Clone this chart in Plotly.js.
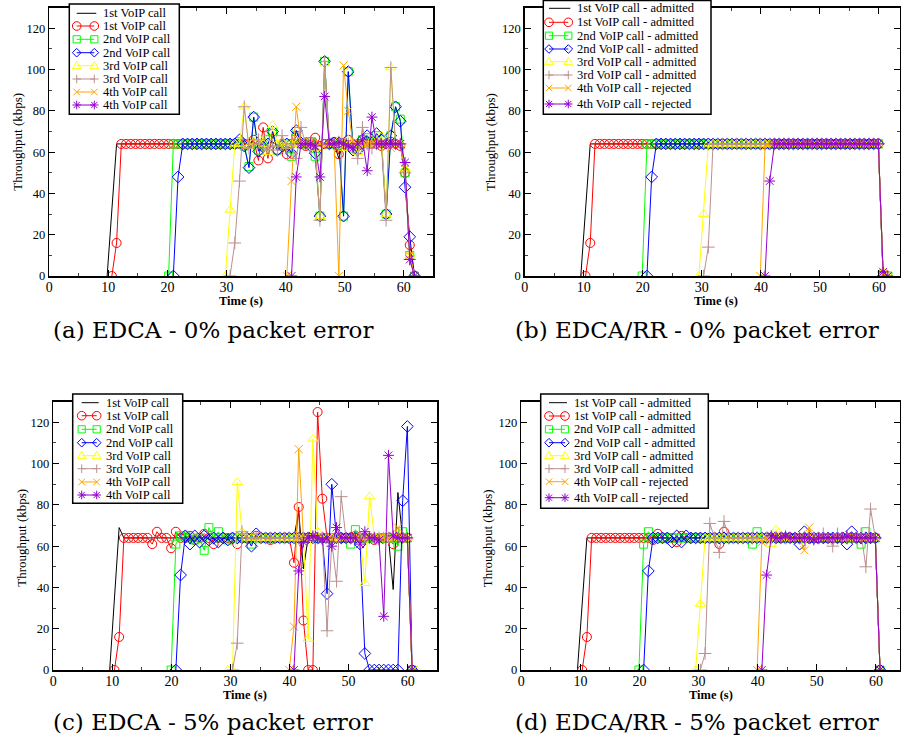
<!DOCTYPE html>
<html><head><meta charset="utf-8">
<script src="https://cdn.plot.ly/plotly-3.0.1.min.js"></script>
<style>html,body{margin:0;padding:0;background:#fff;}#chart{width:901px;height:742px;}</style>
</head><body><div id="chart"></div>
<script>
// ---------- sampling ----------
const DT = 0.8;                       // sampling interval of the throughput trace (s)
const gridOffset = {a: 0.2, b: -0.1, c: -0.05, d: -0.1}; // time of sample k is offset + DT*k

// ---------- labels ----------
const namesEDCA = ['1st VoIP call','1st VoIP call','2nd VoIP call','2nd VoIP call','3rd VoIP call','3rd VoIP call','4th VoIP call','4th VoIP call'];
const namesRR = ['1st VoIP call - admitted','1st VoIP call - admitted','2nd VoIP call - admitted','2nd VoIP call - admitted','3rd VoIP call - admitted','3rd VoIP call - admitted','4th VoIP call - rejected','4th VoIP call - rejected'];
const captions = ['(a) EDCA - 0% packet error','(b) EDCA/RR - 0% packet error','(c) EDCA - 5% packet error','(d) EDCA/RR - 5% packet error'];
const xTitle = 'Time (s)';
const yTitle = 'Throughput (kbps)';

// first sample index of each series (black, red, green, blue, yellow, brown, orange, violet)
const startA = [12,13,25,26,37,38,50,51];
const startB = [12,13,25,26,37,38,50,51];
const startC = [12,13,25,26,37,38,50,51];
const startD = [12,13,25,26,37,38,50,51];

// ---------- (a) EDCA 0% ----------
const aBlack = [0,30,
64,64,64,64,64,64,64,64,64,64, 64,64,64,64,64,64,64,64,64,64, 64,64,64,64,64,64,64,
64,64,65,63,64,64,65,63,64,64, 64,65,64,63,64,64,64,64,64,64,
57,66, 64,64,64,64,64,64,64,64,64,64,64,64, 50,12,0];
const aRed = [0,16,
64,64,64,64,64,64,64,64,64,64, 64,64,64,64,64,64,64,64,64,64, 64,64,64,64,64,64,64,64,
66,56,72,57,69,61,64,59,64,68, 64,63,65,67,63,64,64,65,59,64,
66,64,63,64,65,64,64,63,64,65, 64,63,50,15,0];
const aGreen = [0, 64,64,64,64,64,64,64,64,64,64,64,64,64,
64,65,63,53,77,61,63,66,70,61, 63,64,58,70,64,64,65,58,29,104,
64,64,64,29,99,62,61,66,67,65, 68,66,30,68,82,76,50,10,0];
const aBlue = [0,48, 64,64,64,64,64,64,64,64,64,64,64,
64,66,63,52.5,77,60.5,62.5,64,70,61, 63,64,59.5,70.5,64.5,64.5,63,59.5,29,104,
64,64.5,64.5,29,99,61,61,66,68,65, 69,66,30,68,82,75,43,19,0];
const aYellow = [0,32,
64,64,82,63,65,67,64,60,73,64, 65,63,64,66,64,65,64,62,29,103,
64,64,66,62,66,64,60,65,64,66, 64,68,30,101,64,64,52,10,0];
const aBrown = [0,
16,46,82,62,64,66,62,61,63,61, 68,62,64,57,72,64,62,64,27,104,
64,64,64,64,64,64,57,72,64,62, 64,64,27,101,64,64,50,8,0];
const aOrange = [0,46,82,64,64,65,63,64,64,64, 64,0,102,80,64,64,64,64,64,64, 64,64,62,64,64,52,10,0];
const aViolet = [0,48,64,64,64,63,48,87,64,64, 65,64,63,62,64,66,51,77,64,64, 64,64,64,64,55,8,0];

// ---------- (b) EDCA/RR 0% ----------
const bBlack = [0,32,
64,64,64,64,64,64,64,64,64,64, 64,64,64,64,64,64,64,64,64,64, 64,64,64,64,64,64,64,64,64,64,
64,64,64,64,64,64,64,64,64,64, 64,64,64,64,64,64,64,64,64,64, 64,64,64,64,64,64,64,64,64,64, 64,64, 0];
const bRed = [0,16,
64,64,64,64,64,64,64,64,64,64, 64,64,64,64,64,64,64,64,64,64, 64,64,64,64,64,64,64,64,64,64,
64,64,64,64,64,64,64,64,64,64, 64,64,64,64,64,64,64,64,64,64, 64,64,64,64,64,64,64,64,64,64, 64, 0];
const bGreen = [0,
64,64,64,64,64,64,64,64,64,64, 64,64,64,64,64,64,64,64,64,64, 64,64,64,64,64,64,64,64,64,64,
64,64,64,64,64,64,64,64,64,64, 64,64,64,64,64,64,64,64,64,64, 1,0];
const bBlue = [0,48,
64,64,64,64,64,64,64,64,64,64, 64,64,64,64,64,64,64,64,64,64, 64,64,64,64,64,64,64,64,64,64,
64,64,64,64,64,64,64,64,64,64, 64,64,64,64,64,64,64,64, 0];
const bYellow = [0,30,
64,64,64,64,64,64,64,64,64,64, 64,64,64,64,64,64,64,64,64,64, 64,64,64,64,64,64,64,64,64,64,
64,64,64,64,64,64,64, 2,0];
const bBrown = [0,14,
64,64,64,64,64,64,64,64,64,64, 64,64,64,64,64,64,64,64,64,64, 64,64,64,64,64,64,64,64,64,64,
64,64,64,64,64,64, 0];
const bOrange = [0,63, 64,64,64,64,64,64,64,64,64,64, 64,64,64,64,64,64,64,64,64,64, 64,64,64,64, 1,0];
const bViolet = [0,46, 64,64,64,64,64,64,64,64,64,64, 64,64,64,64,64,64,64,64,64,64, 64,64,64, 2,0];

// ---------- (c) EDCA 5% ----------
const cBlack = [0,35,69,
64,64,64,64,64,64,64,64,64,64, 64,64,64,64,64,64,64,64,64,64, 64,64,64,64,64,64,64,64,64,64, 64,64,64,64,64,64,64,
77,49, 64,64,64,64,64,64,64,64,64,64, 64,64,64,64,64,64,64,64, 39,86,64,64, 0];
const cRed = [0,16, 64,64,64,64,64,64,
61,67,64,64,59,67,64,64,65,63, 64,66,64,61,64,64,64,64,61,64,
64,64,65,64,64,63,64,64,64,64, 52,79,24,0,0,125,83,64,64,64,
64,64,64,65,64,64,64,63,64,64, 64,61,64,64,64,0];
const cGreen = [0,
61,65,65,64,63,64,58,69,64,67, 64,63,64,64,64,64,61,64,64,64,
64,64,64,64,64,64,64,64,64,64, 64,64,64,64,64,64,64,61,68,64,
64,64,64,64,64,64,64,60,67,64, 0];
const cBlue = [0,46,
65,61,65,62,65,63,64,62,64,63, 64,64,64,64,60,66,64,64,64,64,
64,64,64,64,64,64,64,64,64,64, 37,90,64,64,64,64,64,61,8,0,
0,0,0,0,0,0,82,118, 0];
const cYellow = [0,0,
91,67,64,64,64,64,64,64,64,64, 64,64,64,64,64,15,112,67,64,64,
64,64,64,64,64,64,64,42,84,65, 64,64,64,64,64,64,64,0,0];
const cBrown = [0,
13,67,64,64,64,64,64,64,64,64, 64,64,64,64,64,64,64,64,64,19,
62,43,84,64,64,64,64,64,64,64, 64,64,64,64,64,64,64,0];
const cOrange = [0,21,107,64,64,64,64,64,64,64, 64,64,64,64,64,64,64,64,64,64, 64,64,64,69,64,64,0];
const cViolet = [0,48,62,64,65,64,63,64,60,69, 64,64,64,64,61,67,64,64,63,26, 104,65,64,64,64,0];

// ---------- (d) EDCA/RR 5% ----------
const dBlack = [0,32,
64,64,64,64,64,64,64,64,64,64, 64,64,64,64,64,64,64,64,64,64, 64,64,64,64,64,64,64,64,64,64,
64,64,64,64,64,64,64,64,64,64, 64,64,64,64,64,64,64,64,64,64, 64,64,64,64,64,64,64,64,64,64, 64,64, 0];
const dRed = [0,16, 64,64,64,64,64,64,64,64,64,64,64,64,64,
63,66,64,64,64,62,65,64,64,64, 64,64,64,64,61,67,64,64,64,64,
64,64,64,64,64,64,64,64,64,64, 64,64,64,64,64,64,64,64,64,64, 64,64,64,64,64,64,64,64, 0];
const dGreen = [0,61,67,
64,64,64,64,64,64,64,64,64,64, 64,64,64,64,64,64,64,64,64,64, 64,
61,67, 64,64,64,64,64,64,64,64,64,64, 64,64,64,64,64,64,64,64,64,64, 64,
61,67,64,64, 0];
const dBlue = [0,48, 64,64,64,64, 62,65,62,65,
64,64,64,64,64,64,64,64,64,64, 64,64,64,64,64,64,64,64,64,64, 64,64,64,
61,67, 64,64,64,64,64,64,64,64, 61,67, 64,64,64,64,64, 0];
const dYellow = [0,32, 64,64,64,64,64,64,64,64,64,64,64,64,64,64, 61,68,
64,64,64,64,64,64,64,64,64,64, 64,64,64,64,64,64,64,64,64,64,64, 0];
const dBrown = [0,8,71,64,57,72,
64,64,64,64,64,64,64,64,64,64, 64,64,64,64,64,64,64,64,64,64,
66,64,60,66, 64,64,64,64, 66,50,78,64, 0];
const dOrange = [0,62, 64,64,64,64,64,64,64,64, 58,69, 64,64,64,64,64,64,64,64,64,64,64,64,64,64, 0];
const dViolet = [0,46, 65,64,64,65,64,64,64,64,64,63,64,64,64,64,64,64,65,64,64,64,64,64,64, 0];

// ---------- styles ----------
const COLORS = ['#000000','#ff0000','#00ff00','#0000ff','#ffff00','#bc8f8f','#ffa500','#9400d3'];
const SYMBOLS = [null,'circle-open','square-open','diamond-open','triangle-up-open','cross-thin-open','x-thin-open','asterisk-open'];
const MSIZE = [0,9,8,9,9,9,8,9];
const W = 901, H = 742;
const serif = 'Liberation Serif';

const panels = [
  {off: gridOffset.a, start: startA, data: [aBlack,aRed,aGreen,aBlue,aYellow,aBrown,aOrange,aViolet], xa:'x',  ya:'y'},
  {off: gridOffset.b, start: startB, data: [bBlack,bRed,bGreen,bBlue,bYellow,bBrown,bOrange,bViolet], xa:'x2', ya:'y2'},
  {off: gridOffset.c, start: startC, data: [cBlack,cRed,cGreen,cBlue,cYellow,cBrown,cOrange,cViolet], xa:'x3', ya:'y3'},
  {off: gridOffset.d, start: startD, data: [dBlack,dRed,dGreen,dBlue,dYellow,dBrown,dOrange,dViolet], xa:'x4', ya:'y4'}
];
const panelNames = [namesEDCA, namesRR, namesEDCA, namesRR];

const traces = [];
panels.forEach((p, pi) => {
  p.data.forEach((vals, si) => {
    const t = vals.map((v, i) => +(p.off + DT * (p.start[si] + i)).toFixed(3));
    const tr = {
      type: 'scatter', x: t, y: vals, xaxis: p.xa, yaxis: p.ya,
      name: panelNames[pi][si], showlegend: false, hoverinfo: 'x+y',
      line: {color: COLORS[si], width: 1},
      mode: si === 0 ? 'lines' : 'lines+markers'
    };
    if (si > 0) tr.marker = {symbol: SYMBOLS[si], size: MSIZE[si], color: COLORS[si], line: {color: COLORS[si], width: 1}};
    traces.push(tr);
  });
});

// ---------- axes (pixel geometry -> paper domains) ----------
const px = v => v / W, py = v => 1 - v / H;
function xAxis(x0, x1, range, anchor) {
  return {domain: [px(x0), px(x1)], range: range, anchor: anchor, showgrid: false, zeroline: false,
    showline: true, linecolor: '#000', linewidth: 1.5, mirror: 'ticks', ticks: 'inside', ticklen: 6, tickwidth: 1, tickcolor: '#000',
    tick0: 0, dtick: 10, minor: {ticks: 'inside', ticklen: 3, dtick: 5, tickwidth: 1, tickcolor: '#444'},
    ticklabelstandoff: -2,
    tickfont: {family: serif, size: 14, color: '#000'}, fixedrange: true};
}
function yAxis(ytop, ybot, anchor) {
  return {domain: [py(ybot), py(ytop)], range: [0, 130], anchor: anchor, showgrid: false, zeroline: false,
    showline: true, linecolor: '#000', linewidth: 1.5, mirror: 'ticks', ticks: 'inside', ticklen: 6, tickwidth: 1, tickcolor: '#000',
    tick0: 0, dtick: 20, minor: {ticks: 'inside', ticklen: 3, dtick: 10, tickwidth: 1, tickcolor: '#444'},
    tickfont: {family: serif, size: 12.5, color: '#000'}, fixedrange: true};
}

// ---------- hand-drawn legends (xmgrace style) ----------
const legends = [
  {box: [69.3, 4, 179.3, 114.3], s0: 76.7, s1: 94.3, tx: 100.5, rows: [13.3,26,39.3,52.7,65.7,79,92,105], names: namesEDCA},
  {box: [543.3, 0.5, 711, 114.3], s0: 549, s1: 568.3, tx: 574.5, rows: [8.3,22.3,35.7,49,61.7,75,88,104], names: namesRR},
  {box: [72.7, 394, 182.7, 503.3], s0: 81.7, s1: 96.7, tx: 103.5, rows: [402.7,415.7,429.3,442.7,455.7,468.7,482,495], names: namesEDCA},
  {box: [540.7, 394, 708.3, 508.3], s0: 549, s1: 565, tx: 571.5, rows: [402.7,416,429.3,442.7,455.7,468.7,481.7,497.7], names: namesRR}
];
const shapes = [], annotations = [];
function P(x, y) { return px(x).toFixed(5) + ',' + py(y).toFixed(5); }
function markerShape(sym, cx, cy, color) {
  const r = 4.3, ln = {color: color, width: 1};
  const base = {xref: 'paper', yref: 'paper', layer: 'above', line: ln, fillcolor: 'rgba(0,0,0,0)'};
  if (sym === 'circle-open') return [Object.assign({type: 'circle', x0: px(cx - r), x1: px(cx + r), y0: py(cy + r), y1: py(cy - r)}, base)];
  if (sym === 'square-open') return [Object.assign({type: 'rect', x0: px(cx - 3.6), x1: px(cx + 3.6), y0: py(cy + 3.6), y1: py(cy - 3.6)}, base)];
  let path;
  if (sym === 'diamond-open') path = 'M' + P(cx - r, cy) + 'L' + P(cx, cy - r) + 'L' + P(cx + r, cy) + 'L' + P(cx, cy + r) + 'Z';
  if (sym === 'triangle-up-open') path = 'M' + P(cx - r, cy + 3) + 'L' + P(cx, cy - 4.5) + 'L' + P(cx + r, cy + 3) + 'Z';
  if (sym === 'cross-thin-open') path = 'M' + P(cx - r, cy) + 'L' + P(cx + r, cy) + 'M' + P(cx, cy - r) + 'L' + P(cx, cy + r);
  if (sym === 'x-thin-open') path = 'M' + P(cx - 3.3, cy - 3.3) + 'L' + P(cx + 3.3, cy + 3.3) + 'M' + P(cx - 3.3, cy + 3.3) + 'L' + P(cx + 3.3, cy - 3.3);
  if (sym === 'asterisk-open') path = 'M' + P(cx - r, cy) + 'L' + P(cx + r, cy) + 'M' + P(cx, cy - r) + 'L' + P(cx, cy + r) +
      'M' + P(cx - 3.1, cy - 3.1) + 'L' + P(cx + 3.1, cy + 3.1) + 'M' + P(cx - 3.1, cy + 3.1) + 'L' + P(cx + 3.1, cy - 3.1);
  return [Object.assign({type: 'path', path: path}, base)];
}
legends.forEach(lg => {
  const [x0, y0, x1, y1] = lg.box;
  shapes.push({type: 'rect', xref: 'paper', yref: 'paper', layer: 'above', x0: px(x0), x1: px(x1), y0: py(y1), y1: py(y0),
    line: {color: '#000', width: 1.5}, fillcolor: '#fff'});
  lg.rows.forEach((ry, si) => {
    shapes.push({type: 'line', xref: 'paper', yref: 'paper', layer: 'above', x0: px(lg.s0), x1: px(lg.s1 + (si === 0 ? 2 : 0)),
      y0: py(ry), y1: py(ry), line: {color: COLORS[si], width: 1}});
    if (si > 0) {
      markerShape(SYMBOLS[si], lg.s0, ry, COLORS[si]).forEach(s => shapes.push(s));
      markerShape(SYMBOLS[si], lg.s1, ry, COLORS[si]).forEach(s => shapes.push(s));
    }
    annotations.push({xref: 'paper', yref: 'paper', x: px(lg.tx), y: py(ry), xanchor: 'left', yanchor: 'middle', showarrow: false,
      text: lg.names[si], font: {family: serif, size: 12.5, color: '#000'}});
  });
});

// axis titles and captions
const yTitlePos = [[16.7, 142], [490, 142], [20.7, 538], [487.3, 538]];
const xTitlePos = [[241, 300.5], [716, 300.5], [245, 694.5], [711, 694.5]];
const capPos = [[213, 330], [697, 330], [213, 722], [697, 722]];
for (let i = 0; i < 4; i++) {
  annotations.push({xref: 'paper', yref: 'paper', x: px(yTitlePos[i][0]), y: py(yTitlePos[i][1]), xanchor: 'center', yanchor: 'middle',
    showarrow: false, textangle: -90, text: yTitle, font: {family: serif, size: 13, color: '#000'}});
  annotations.push({xref: 'paper', yref: 'paper', x: px(xTitlePos[i][0]), y: py(xTitlePos[i][1]), xanchor: 'center', yanchor: 'middle',
    showarrow: false, text: '<b>' + xTitle + '</b>', font: {family: serif, size: 12.5, color: '#000'}});
  annotations.push({xref: 'paper', yref: 'paper', x: px(capPos[i][0]), y: py(capPos[i][1]), xanchor: 'center', yanchor: 'middle',
    showarrow: false, text: captions[i], font: {family: 'DejaVu Serif', size: 23, color: '#000'}});
}

const layout = {
  width: W, height: H, margin: {l: 0, r: 0, t: 0, b: 0}, paper_bgcolor: '#fff', plot_bgcolor: '#fff', showlegend: false,
  font: {family: serif},
  xaxis:  xAxis(49.2, 433.4, [0, 65], 'y'),
  yaxis:  yAxis(7.7, 276, 'x'),
  xaxis2: xAxis(524.7, 900, [0, 63.56], 'y2'),
  yaxis2: yAxis(7.7, 276, 'x2'),
  xaxis3: xAxis(53.3, 437.2, [0, 65], 'y3'),
  yaxis3: yAxis(401.7, 670, 'x3'),
  xaxis4: xAxis(521.3, 900, [0, 64.08], 'y4'),
  yaxis4: yAxis(401.7, 670, 'x4'),
  shapes: shapes, annotations: annotations
};
Plotly.newPlot('chart', traces, layout, {displayModeBar: false, staticPlot: true});
</script></body></html>
